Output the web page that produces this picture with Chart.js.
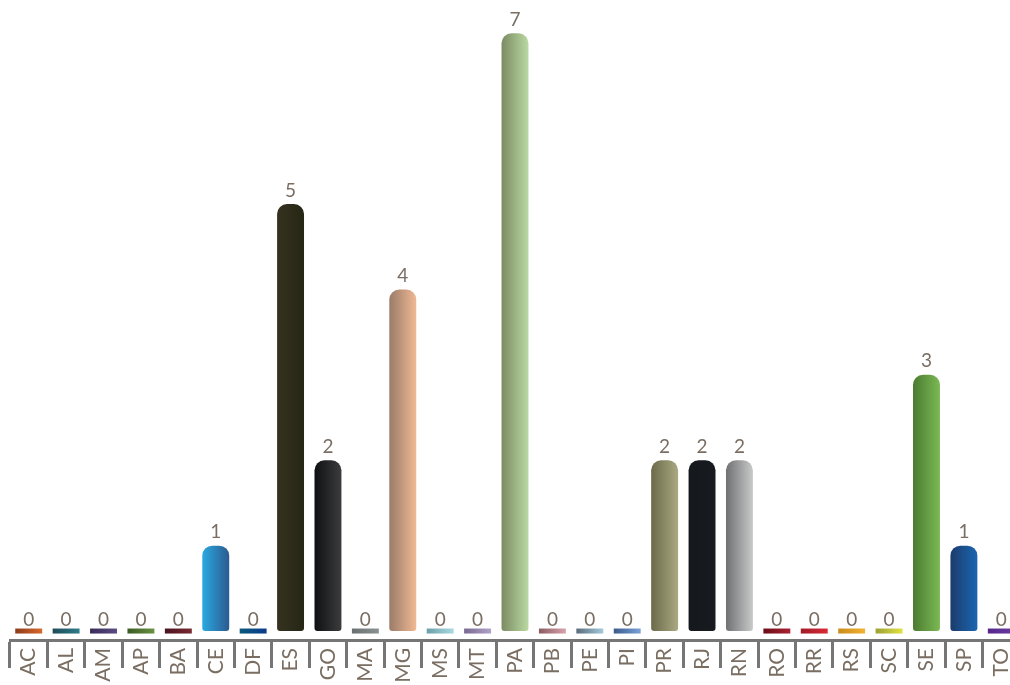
<!DOCTYPE html>
<html>
<head>
<meta charset="utf-8">
<script src="https://cdn.jsdelivr.net/npm/chart.js@4.4.1/dist/chart.umd.min.js"></script>
<style>
  html, body { margin: 0; padding: 0; background: #fff; overflow: hidden; }
  #wrap { width: 1020px; height: 685px; }
</style>
</head>
<body>
<div id="wrap"><canvas id="barChart" width="1020" height="685"></canvas></div>
<script>
const states = ["AC","AL","AM","AP","BA","CE","DF","ES","GO","MA","MG","MS","MT","PA","PB","PE","PI","PR","RJ","RN","RO","RR","RS","SC","SE","SP","TO"];
const counts = [0,0,0,0,0,1,0,5,2,0,4,0,0,7,0,0,0,2,2,2,0,0,0,0,3,1,0];

// left / right colour of each bar's gradient
const colorLeft  = ["#8c3b1a","#1d4c58","#382a58","#3a5a22","#4a1220","#2aa9e1","#0b5a7c","#35321f","#0f1013","#6a7070","#9a7b69","#6a9fa8","#77688e","#7b8b62","#8a5c62","#5b6b7a","#3a5a8a","#6b6a4a","#15181c","#6f7173","#6a0c16","#a01b26","#c98b1c","#9aa133","#4b7b31","#1b3c6c","#55278a"];
const colorRight = ["#d86a2e","#2f7c8a","#5b4b82","#6a9242","#7a2a32","#2b5a90","#0b3b8c","#262615","#3c3c3e","#8b9292","#f0b993","#aadae2","#b2a2ca","#bad9a2","#d9a2aa","#a3cbdb","#7ba2d9","#aaa982","#171a1f","#c9c9c9","#aa2232","#d92b36","#f2b232","#e2e243","#7bb953","#1b65b1","#6b3aa2"];

const textColor = "#7a6e63";
const barFrac = 0.72;

function barGradient(context) {
  const chart = context.chart;
  const i = context.dataIndex;
  const x = chart.scales.x;
  if (!x || !chart.chartArea || i === undefined) return colorLeft[i] || "#888";
  const cx = x.getPixelForValue(i);
  const half = x.width / states.length * barFrac / 2;
  const g = chart.ctx.createLinearGradient(cx - half, 0, cx + half, 0);
  g.addColorStop(0, colorLeft[i]);
  g.addColorStop(1, colorRight[i]);
  return g;
}

const valueLabels = {
  id: "valueLabels",
  afterDatasetsDraw(chart) {
    const ctx = chart.ctx;
    const meta = chart.getDatasetMeta(0);
    ctx.save();
    ctx.font = "19px Lato, 'DejaVu Sans', sans-serif";
    ctx.fillStyle = textColor;
    ctx.textAlign = "center";
    ctx.textBaseline = "bottom";
    meta.data.forEach((bar, i) => {
      ctx.fillText(String(counts[i]), bar.x, bar.y - 4);
    });
    ctx.restore();
  }
};

const CHART = document.getElementById("barChart");
let barChart = new Chart(CHART, {
  type: "bar",
  data: {
    labels: states,
    datasets: [{
      data: counts,
      backgroundColor: barGradient,
      borderWidth: 0,
      borderSkipped: false,
      borderRadius: (c) => counts[c.dataIndex] === 0 ? 0 : {topLeft: 10, topRight: 10, bottomLeft: 3, bottomRight: 3},
      minBarLength: 5,
      barPercentage: barFrac,
      categoryPercentage: 1
    }]
  },
  options: {
    responsive: false,
    animation: false,
    layout: { padding: { left: 10, right: 0, top: 0, bottom: 0 } },
    plugins: {
      legend: { display: false },
      tooltip: { enabled: false }
    },
    scales: {
      x: {
        offset: true,
        afterFit: (axis) => { axis.height = 45; },
        border: { display: true, color: "#767676", width: 3 },
        grid: {
          display: true,
          drawOnChartArea: false,
          drawTicks: true,
          tickLength: 28,
          tickWidth: 3,
          tickColor: "#767676",
          offset: true
        },
        ticks: {
          autoSkip: false,
          minRotation: 90,
          maxRotation: 90,
          padding: -20,
          color: textColor,
          font: { family: "Lato, 'DejaVu Sans', sans-serif", size: 21 }
        }
      },
      y: {
        display: false,
        min: -0.105,
        max: 7.39
      }
    }
  },
  plugins: [valueLabels]
});
</script>
</body>
</html>
